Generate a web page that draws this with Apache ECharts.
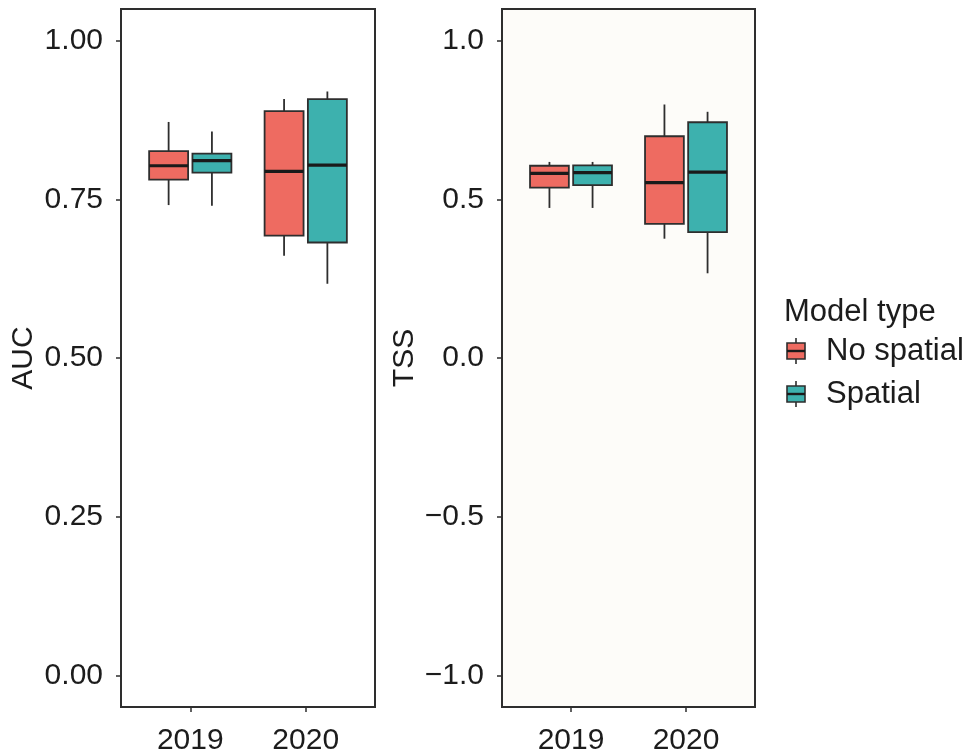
<!DOCTYPE html>
<html>
<head>
<meta charset="utf-8">
<script src="https://cdn.jsdelivr.net/npm/echarts@6/dist/echarts.min.js"></script>
<style>
  html, body { margin: 0; padding: 0; background: #ffffff; }
  #chart { width: 970px; height: 756px; }
</style>
</head>
<body>
<div id="chart"></div>
<script>
// Year categories and model types
const years = ['2019', '2020'];
const modelTypes = ['No spatial', 'Spatial'];

// Box statistics per year: [min, Q1, median, Q3, max]
const aucNoSpatial = [[0.741, 0.781, 0.803, 0.826, 0.872], [0.661, 0.693, 0.794, 0.889, 0.908]];
const aucSpatial   = [[0.740, 0.792, 0.811, 0.822, 0.857], [0.617, 0.682, 0.804, 0.908, 0.920]];
const tssNoSpatial = [[0.473, 0.537, 0.582, 0.606, 0.618], [0.376, 0.423, 0.553, 0.699, 0.799]];
const tssSpatial   = [[0.473, 0.545, 0.584, 0.607, 0.618], [0.267, 0.397, 0.586, 0.743, 0.776]];

// Tick values and labels
const aucTicks = [0, 0.25, 0.5, 0.75, 1];
const aucTickLabels = ['0.00', '0.25', '0.50', '0.75', '1.00'];
const tssTicks = [-1, -0.5, 0, 0.5, 1];
const tssTickLabels = ['\u22121.0', '\u22120.5', '0.0', '0.5', '1.0'];

const colors = ['#EE6B61', '#3DB1AE'];
const FONT = 'Liberation Sans, Arial, Helvetica, sans-serif';
const TEXT = '#1c1c1c';
const LINE = '#2e2e2e';
const FS = 30;

// Dodged boxes: each year spans 0.75 units, each box is 0.3375 wide
const DODGE = 0.1875;
const BOX_W = 0.3375;

function boxData(stats, groupIndex) {
  const offset = groupIndex === 0 ? -DODGE : DODGE;
  return stats.map((s, i) => [i + 1 + offset].concat(s));
}

function renderBox(params, api) {
  const x = api.value(0);
  const half = api.size([BOX_W, 0])[0] / 2;
  const pMin = api.coord([x, api.value(1)]);
  const pQ1 = api.coord([x, api.value(2)]);
  const pMed = api.coord([x, api.value(3)]);
  const pQ3 = api.coord([x, api.value(4)]);
  const pMax = api.coord([x, api.value(5)]);
  const cx = pMin[0];
  const color = colors[params.seriesIndex % 2];
  const lineStyle = { stroke: LINE, lineWidth: 1.8 };
  return {
    type: 'group',
    children: [
      { type: 'line', shape: { x1: cx, y1: pMax[1], x2: cx, y2: pQ3[1] }, style: lineStyle },
      { type: 'line', shape: { x1: cx, y1: pQ1[1], x2: cx, y2: pMin[1] }, style: lineStyle },
      { type: 'rect', shape: { x: cx - half, y: pQ3[1], width: half * 2, height: pQ1[1] - pQ3[1] },
        style: { fill: color, stroke: LINE, lineWidth: 1.8 } },
      { type: 'line', shape: { x1: cx - half, y1: pMed[1], x2: cx + half, y2: pMed[1] },
        style: { stroke: '#1a1a1a', lineWidth: 3.2 } }
    ]
  };
}

function xAxisFor(gridIndex) {
  return {
    type: 'value', gridIndex: gridIndex, min: 0.4, max: 2.6, position: 'bottom',
    splitLine: { show: false },
    axisLine: { show: false, onZero: false },
    axisTick: { show: true, customValues: [1, 2], length: 5, lineStyle: { color: LINE, width: 1.5 } },
    axisLabel: {
      customValues: [1, 2], margin: 19,
      formatter: v => years[Math.round(v) - 1],
      fontSize: FS, fontFamily: FONT, color: TEXT
    }
  };
}

function yAxisFor(gridIndex, name, min, max, ticks, labels) {
  return {
    type: 'value', gridIndex: gridIndex, min: min, max: max, position: 'left',
    name: name, nameLocation: 'middle', nameGap: 82,
    nameTextStyle: { fontSize: FS, fontFamily: FONT, color: TEXT },
    splitLine: { show: false },
    axisLine: { show: false, onZero: false },
    axisTick: { show: true, customValues: ticks, length: 5, lineStyle: { color: LINE, width: 1.5 } },
    axisLabel: {
      customValues: ticks, margin: 18,
      formatter: v => {
        const i = ticks.findIndex(t => Math.abs(t - v) < 1e-9);
        return i >= 0 ? labels[i] : '';
      },
      fontSize: FS, fontFamily: FONT, color: TEXT
    }
  };
}

function legendKey(y, color, label) {
  const cx = 796;
  return [
    { type: 'line', shape: { x1: cx, y1: y - 13, x2: cx, y2: y + 13 }, style: { stroke: LINE, lineWidth: 1.6 } },
    { type: 'rect', shape: { x: 787, y: y - 8, width: 18, height: 16 }, style: { fill: color, stroke: LINE, lineWidth: 1.6 } },
    { type: 'line', shape: { x1: 787, y1: y, x2: 805, y2: y }, style: { stroke: '#1a1a1a', lineWidth: 2.4 } },
    { type: 'text', x: 826, y: y, style: { text: label, font: '31px ' + FONT, fill: TEXT, verticalAlign: 'middle', textAlign: 'left' } }
  ];
}

const gridCommon = { top: 9, height: 698, show: true, borderColor: LINE, borderWidth: 2, containLabel: false, outerBoundsMode: 'none' };

const chart = echarts.init(document.getElementById('chart'), null, { renderer: 'canvas' });
chart.setOption({
  backgroundColor: '#ffffff',
  animation: false,
  grid: [
    Object.assign({ left: 121, width: 254, backgroundColor: '#ffffff' }, gridCommon),
    Object.assign({ left: 502, width: 253, backgroundColor: '#FDFCF9' }, gridCommon)
  ],
  xAxis: [xAxisFor(0), xAxisFor(1)],
  yAxis: [
    yAxisFor(0, 'AUC', -0.05, 1.05, aucTicks, aucTickLabels),
    yAxisFor(1, 'TSS', -1.1, 1.1, tssTicks, tssTickLabels)
  ],
  series: [
    { type: 'custom', name: modelTypes[0], xAxisIndex: 0, yAxisIndex: 0, renderItem: renderBox,
      encode: { x: 0, y: [1, 2, 3, 4, 5] }, data: boxData(aucNoSpatial, 0) },
    { type: 'custom', name: modelTypes[1], xAxisIndex: 0, yAxisIndex: 0, renderItem: renderBox,
      encode: { x: 0, y: [1, 2, 3, 4, 5] }, data: boxData(aucSpatial, 1) },
    { type: 'custom', name: modelTypes[0], xAxisIndex: 1, yAxisIndex: 1, renderItem: renderBox,
      encode: { x: 0, y: [1, 2, 3, 4, 5] }, data: boxData(tssNoSpatial, 0) },
    { type: 'custom', name: modelTypes[1], xAxisIndex: 1, yAxisIndex: 1, renderItem: renderBox,
      encode: { x: 0, y: [1, 2, 3, 4, 5] }, data: boxData(tssSpatial, 1) }
  ],
  graphic: [
    { type: 'text', x: 784, y: 312, style: { text: 'Model type', font: '31px ' + FONT, fill: TEXT, verticalAlign: 'middle', textAlign: 'left' } }
  ].concat(legendKey(351, colors[0], modelTypes[0]), legendKey(394, colors[1], modelTypes[1]))
});
</script>
</body>
</html>
